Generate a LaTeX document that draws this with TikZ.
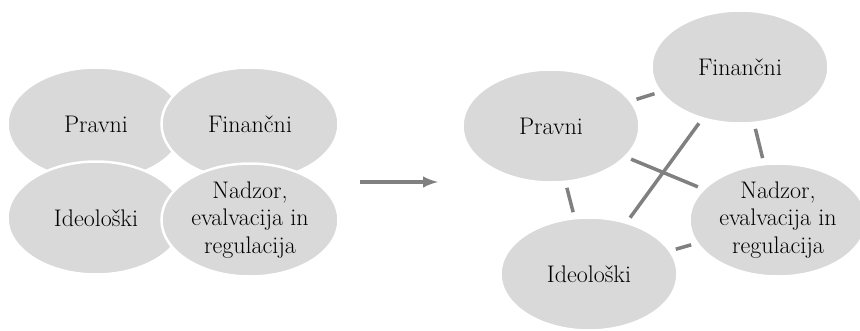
\documentclass[tikz,border=0pt]{standalone}
\usepackage{fontspec}
\usepackage{tikz}
\usetikzlibrary{shapes,arrows,positioning}
\definecolor{blobfill}{RGB}{217,217,217}
\definecolor{linkgray}{RGB}{128,128,128}

\begin{document}
\begin{tikzpicture}[
    x=1pt, y=-1pt,
    blob/.style={ellipse, minimum width=177pt, minimum height=113pt, inner sep=0pt, draw=white, line width=2.5pt, fill=blobfill, align=center, font=\fontsize{24}{27.5}\selectfont},
    link/.style={-, line width=3.5pt, linkgray, shorten >=5pt, shorten <=5pt},
    shift-arrow/.style={-latex, line width=4pt, linkgray}
]
\useasboundingbox (0,0) rectangle (860,330);

% Left group - overlapping
\node[blob] (p1) at (96,124) {Pravni};
\node[blob] (f1) at (250,124) {Finančni};
\node[blob] (i1) at (96,218) {Ideološki};
\node[blob] (n1) at (250,220) {Nadzor,\\evalvacija in\\regulacija};

% Arrow between groups
\coordinate (a1) at (360,182);
\coordinate (a2) at (438,182);
\draw[shift-arrow] (a1) -- (a2);

% Right group - linked
\node[blob] (p2) at (551,126) {Pravni};
\node[blob] (f2) at (740,67) {Finančni};
\node[blob] (n2) at (778,220) {Nadzor,\\evalvacija in\\regulacija};
\node[blob] (i2) at (589,274) {Ideološki};

% Links
\draw[link] (p2) -- (f2);
\draw[link] (f2) -- (n2);
\draw[link] (p2) -- (n2);
\draw[link] (f2) -- (i2);
\draw[link] (p2) -- (i2);
\draw[link] (i2) -- (n2);

\end{tikzpicture}
\end{document}
